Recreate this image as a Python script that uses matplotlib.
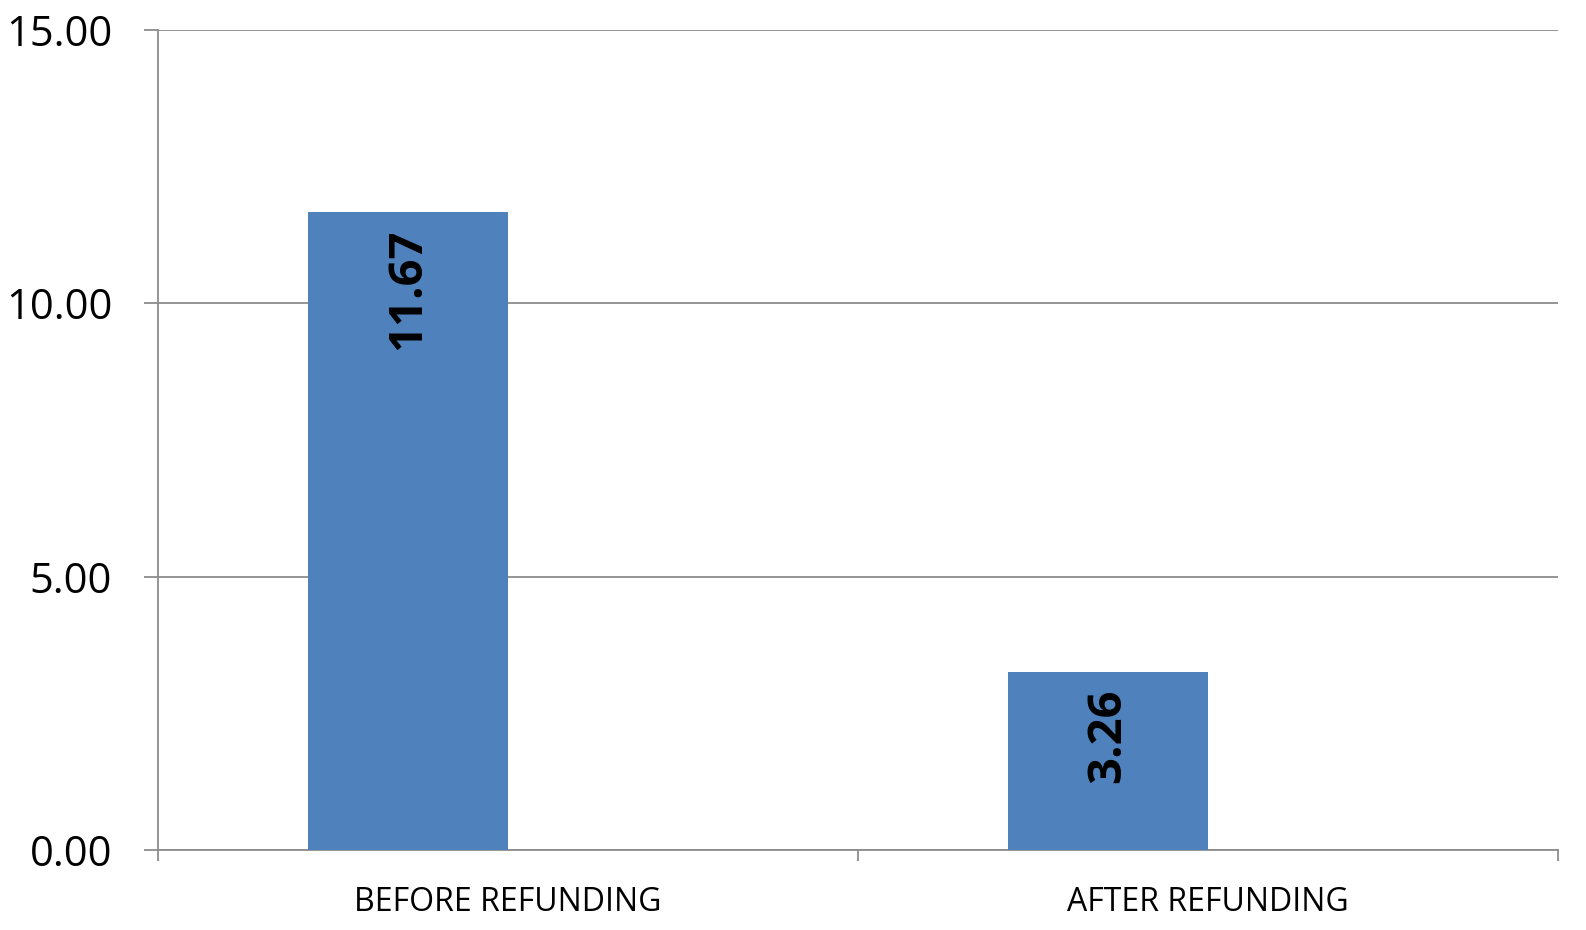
import matplotlib.pyplot as plt
from matplotlib.ticker import FixedLocator, FormatStrFormatter

categories = ['BEFORE REFUNDING', 'AFTER REFUNDING']
values = [11.67, 3.26]
yticks = [0, 5, 10, 15]

plt.rcParams['font.family'] = ['Open Sans', 'DejaVu Sans']

fig = plt.figure(figsize=(15.86, 9.30), dpi=100)
ax = fig.add_axes([158 / 1586, 80 / 930, 1400 / 1586, 820 / 930])

grid_col = '#8c8c8c'
bar_w = 2 / 7
x = list(range(len(categories)))
xpos = [i - bar_w / 2 for i in x]
bars = ax.bar(xpos, values, width=bar_w, color='#4F81BD', zorder=3)

for b, v in zip(bars, values):
    ax.text(b.get_x() + b.get_width() / 2, b.get_height() - 0.3, '%.2f' % v,
            rotation=90, ha='center', va='top', fontsize=34, fontweight='bold',
            color='black', zorder=4)

ax.set_xlim(-0.5, 1.5)
ax.set_ylim(0, 15)
ax.set_yticks(yticks)
ax.yaxis.set_major_formatter(FormatStrFormatter('%.2f'))
ax.set_xticks(x)
ax.set_xticklabels(categories)
ax.xaxis.set_minor_locator(FixedLocator([-0.5, 0.5, 1.5]))

ax.grid(axis='y', color=grid_col, linewidth=1.3, zorder=0)
for s in ['top', 'right']:
    ax.spines[s].set_visible(False)
for s in ['left', 'bottom']:
    ax.spines[s].set_color(grid_col)
    ax.spines[s].set_linewidth(1.3)

ax.tick_params(axis='y', length=10, width=1.3, color=grid_col, pad=23, labelsize=30)
ax.tick_params(axis='x', which='major', length=0, pad=26, labelsize=23)
ax.tick_params(axis='x', which='minor', length=8, width=1.3, color=grid_col)

fig.savefig('out.png', dpi=100, facecolor='white')
